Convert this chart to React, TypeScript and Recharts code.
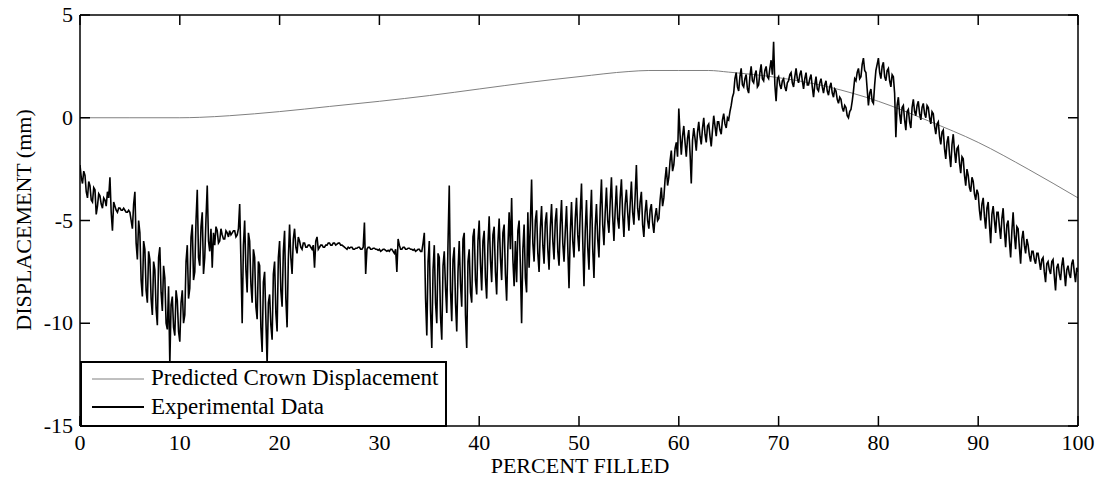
import React from 'react';
import { LineChart, Line, XAxis, YAxis, Legend } from 'recharts';

// measured trace is read every 0.125 percent, in 5% blocks
const STEP = 0.125;

// experimental displacement (mm), one array per 5% of fill
const exp0 = [-2.3, -2.9, -3.2, -2.6, -2.8, -3.6, -3.9, -3.1, -3.3, -4.0, -4.1, -3.4, -3.5, -4.7, -4.3, -3.7, -3.8, -4.2, -4.4, -3.9, -4.0, -4.3, -3.6, -3.9, -2.9, -4.6, -5.5, -4.1, -4.3, -4.5, -4.6, -4.4, -4.4, -4.5, -4.5, -4.4, -4.5, -4.6, -4.6, -4.5];
const exp5 = [-4.6, -5.0, -5.4, -4.2, -3.6, -6.1, -6.9, -5.0, -5.6, -7.9, -8.7, -6.0, -6.4, -8.4, -9.0, -6.5, -6.9, -8.8, -9.6, -7.0, -7.4, -9.3, -10.1, -6.8, -6.3, -8.5, -9.4, -7.2, -7.8, -10.0, -10.3, -8.2, -12.0, -9.1, -8.7, -10.2, -10.6, -8.4, -8.9, -10.4];
const exp10 = [-10.9, -9.0, -8.4, -10.0, -9.6, -7.0, -6.2, -8.8, -8.3, -5.8, -5.2, -7.9, -7.5, -5.0, -3.5, -6.8, -7.2, -5.3, -4.6, -7.6, -6.8, -4.9, -3.3, -6.0, -6.5, -5.4, -7.3, -5.6, -6.2, -5.3, -5.5, -6.1, -6.0, -5.4, -5.7, -5.9, -5.9, -5.5, -5.6, -5.8];
const exp15 = [-5.5, -5.7, -5.6, -5.5, -5.5, -5.8, -5.7, -5.4, -4.2, -7.0, -10.0, -6.2, -5.0, -7.4, -8.5, -5.6, -6.0, -8.1, -9.0, -6.4, -6.8, -9.2, -9.8, -7.0, -7.2, -10.2, -11.4, -8.0, -7.5, -9.8, -12.0, -9.0, -8.6, -10.1, -10.8, -7.6, -7.0, -9.5, -10.4, -6.8];
const exp20 = [-6.0, -8.4, -9.2, -6.5, -5.5, -8.8, -10.2, -6.9, -5.2, -6.8, -7.6, -5.9, -5.4, -6.3, -6.6, -5.8, -6.0, -6.3, -6.4, -6.1, -6.1, -6.3, -6.3, -6.2, -6.2, -6.3, -6.4, -6.2, -7.3, -6.0, -5.8, -6.4, -6.3, -6.2, -6.2, -6.3, -6.3, -6.2, -6.2, -6.1];
const exp25 = [-6.1, -6.2, -6.2, -6.1, -6.1, -6.2, -6.15, -6.1, -6.1, -6.2, -6.2, -6.25, -6.3, -6.35, -6.4, -6.3, -6.35, -6.3, -6.3, -6.4, -6.4, -6.35, -6.35, -6.3, -6.3, -6.4, -6.4, -6.3, -5.1, -7.6, -6.4, -6.3, -6.3, -6.4, -6.4, -6.35, -6.35, -6.4, -6.4, -6.45];
const exp30 = [-6.4, -6.5, -6.45, -6.4, -6.4, -6.45, -6.5, -6.45, -6.5, -6.4, -6.4, -6.5, -6.6, -6.4, -7.5, -5.9, -6.2, -6.4, -6.4, -6.3, -6.3, -6.4, -6.4, -6.35, -6.35, -6.4, -6.4, -6.45, -6.4, -6.5, -6.45, -6.4, -6.4, -6.5, -6.5, -6.1, -5.6, -8.8, -10.6, -7.0];
const exp35 = [-6.0, -9.4, -11.2, -7.4, -6.2, -9.0, -10.0, -6.6, -6.8, -9.7, -10.8, -7.2, -6.5, -8.3, -9.5, -6.1, -3.3, -8.4, -9.9, -6.9, -6.3, -9.0, -10.4, -7.5, -6.0, -8.1, -9.2, -5.9, -5.6, -9.6, -11.2, -7.0, -6.4, -8.5, -9.0, -5.8, -5.4, -7.9, -8.6, -6.0];
const exp40 = [-5.0, -7.1, -8.4, -6.0, -5.5, -7.8, -8.8, -6.2, -4.8, -6.9, -8.0, -5.7, -5.3, -7.5, -8.6, -6.1, -4.9, -6.8, -7.9, -5.6, -5.2, -7.6, -8.9, -6.3, -4.6, -6.4, -3.9, -6.9, -8.2, -6.0, -8.0, -5.5, -5.0, -7.2, -10.0, -6.4, -5.2, -7.8, -8.5, -4.6];
const exp45 = [-7.3, -5.2, -3.0, -6.1, -7.0, -5.0, -4.5, -6.6, -7.5, -5.4, -4.3, -6.2, -7.1, -5.1, -4.6, -6.4, -7.4, -5.3, -4.2, -6.0, -6.9, -5.0, -4.4, -6.5, -7.2, -5.2, -4.0, -6.1, -7.0, -5.5, -4.3, -6.3, -8.3, -5.6, -4.1, -6.0, -6.8, -4.9, -3.9, -5.7];
const exp50 = [-6.5, -4.6, -3.2, -6.0, -8.2, -5.5, -4.0, -6.3, -7.4, -5.0, -3.5, -6.4, -7.8, -5.3, -4.2, -5.9, -6.8, -4.4, -3.0, -5.2, -6.2, -4.6, -3.4, -5.0, -5.6, -4.1, -2.9, -4.8, -6.0, -4.5, -3.3, -4.9, -5.4, -3.9, -3.0, -4.7, -5.8, -4.2, -3.5, -4.6];
const exp55 = [-5.5, -4.2, -3.1, -4.6, -5.2, -3.8, -2.3, -4.4, -5.0, -4.1, -3.6, -5.2, -5.8, -4.6, -4.0, -5.0, -5.4, -4.5, -4.2, -5.1, -5.6, -4.8, -4.4, -5.0, -4.9, -4.0, -3.4, -4.3, -3.9, -3.0, -2.4, -3.3, -2.9, -2.1, -1.6, -2.6, -2.3, -1.5, -1.2, -1.9];
const exp60 = [0.45, -0.8, -1.8, -0.9, -0.4, -1.2, -1.9, -1.0, -0.6, -1.7, -3.2, -1.1, -0.5, -1.0, -1.6, -0.7, -0.2, -0.9, -1.3, -0.5, 0.0, -0.8, -1.2, -0.4, -0.3, -0.9, -1.4, -0.6, 0.1, -0.4, -0.9, -0.2, -0.2, -0.6, -0.8, -0.1, 0.2, -0.3, -0.5, 0.0];
const exp65 = [-0.1, 0.3, 0.6, 1.0, 1.2, 1.9, 2.2, 1.5, 1.3, 2.0, 2.4, 1.6, 1.5, 1.9, 2.1, 1.4, 1.2, 2.0, 2.5, 1.8, 1.7, 2.1, 2.3, 1.5, 1.6, 2.2, 2.6, 1.9, 1.8, 2.3, 2.5, 2.0, 1.9, 2.4, 2.8, 2.1, 3.7, 1.6, 0.8, 1.9];
const exp70 = [2.0, 1.6, 1.4, 1.8, 1.9, 1.5, 1.3, 1.7, 1.8, 2.1, 2.2, 1.7, 1.5, 2.0, 2.4, 1.9, 1.7, 2.1, 2.3, 1.8, 1.4, 1.9, 2.2, 1.6, 1.6, 1.9, 2.1, 1.5, 1.0, 1.6, 2.0, 1.4, 1.3, 1.7, 1.9, 1.5, 1.2, 1.6, 1.8, 1.3];
const exp75 = [1.1, 1.5, 1.7, 1.2, 1.0, 1.4, 1.3, 0.9, 0.7, 1.0, 0.9, 0.5, 0.3, 0.6, 0.5, 0.1, 0.0, 0.3, 0.4, 0.8, 1.3, 1.9, 1.8, 2.2, 2.4, 1.9, 2.0, 2.6, 2.9, 2.3, 2.2, 1.4, 0.6, 1.2, 1.4, 0.8, 0.7, 1.6, 2.3, 2.6];
const exp80 = [2.9, 2.2, 1.9, 2.5, 2.7, 2.0, 1.8, 2.3, 2.4, 1.8, 1.5, 2.1, 2.0, 1.2, -0.95, 0.6, 1.0, 0.2, -0.3, 0.5, 0.6, -0.1, -0.6, 0.3, 0.4, -0.2, -0.5, 0.5, 0.9, 0.3, 0.1, 0.6, 0.8, 0.2, -0.1, 0.5, 0.7, 0.2, 0.0, 0.6];
const exp85 = [0.5, 0.0, -0.3, 0.3, 0.2, -0.4, -0.8, -0.3, -0.2, -0.9, -1.3, -0.7, -0.6, -1.5, -2.0, -1.2, -0.9, -1.8, -2.4, -1.3, -0.8, -1.6, -2.2, -1.5, -1.4, -2.2, -2.7, -1.9, -2.0, -2.8, -3.3, -2.5, -2.8, -3.4, -3.6, -2.9, -3.1, -3.7, -4.0, -3.5];
const exp90 = [-3.7, -4.5, -5.0, -4.2, -3.9, -4.8, -5.4, -4.4, -4.1, -5.2, -6.1, -4.7, -4.3, -5.0, -5.6, -4.6, -4.6, -5.3, -5.9, -4.9, -4.4, -5.5, -6.3, -5.2, -5.0, -6.0, -6.8, -5.5, -4.6, -5.7, -6.4, -5.3, -5.4, -6.3, -7.1, -5.9, -5.5, -6.2, -6.6, -5.9];
const exp95 = [-6.2, -6.7, -7.0, -6.5, -6.5, -6.9, -7.1, -6.6, -6.6, -7.0, -7.4, -6.9, -6.8, -7.5, -8.0, -7.1, -7.0, -7.4, -7.6, -7.0, -6.9, -7.7, -8.4, -7.3, -7.1, -7.6, -7.9, -7.2, -6.8, -7.5, -8.2, -7.4, -7.2, -7.6, -7.8, -7.1, -6.9, -7.5, -8.0, -7.3, -7.5];

const expBlocks = [exp0, exp5, exp10, exp15, exp20, exp25, exp30, exp35, exp40, exp45, exp50, exp55, exp60, exp65, exp70, exp75, exp80, exp85, exp90, exp95];
const blockStarts = [0, 5, 10, 15, 20, 25, 30, 35, 40, 45, 50, 55, 60, 65, 70, 75, 80, 85, 90, 95];

// predicted crown displacement (mm)
const predX = [0, 5, 10, 12, 15, 20, 25, 30, 35, 40, 45, 50, 55, 57, 60, 63, 65, 70, 75, 80, 85, 90, 95, 100];
const predY = [0, 0, 0, 0.02, 0.1, 0.3, 0.55, 0.8, 1.08, 1.4, 1.72, 2.0, 2.25, 2.3, 2.3, 2.3, 2.22, 1.95, 1.5, 0.8, -0.15, -1.2, -2.5, -3.9];

const xTicks = [0, 10, 20, 30, 40, 50, 60, 70, 80, 90, 100];
const yTicks = [-15, -10, -5, 0, 5];

const expData = expBlocks.flatMap((block, b) =>
  block.map((v, i) => ({ x: blockStarts[b] + i * STEP, y: v }))
);
const predData = predX.map((x, i) => ({ x, y: predY[i] }));

const FONT = '"Liberation Serif", "Times New Roman", serif';
const TICK_LEN = 10;
const FS = 22;

// ticks point into the plot, like the original figure
const BottomTick = (props: any) => {
  const { x, y, payload } = props;
  return (
    <g>
      <path d={`M${x},${y}V${y - TICK_LEN}`} stroke="#000" strokeWidth={1.5} fill="none" />
      <text x={x} y={y + 24} textAnchor="middle" fontFamily={FONT} fontSize={FS} fill="#000" stroke="none">
        {payload.value}
      </text>
    </g>
  );
};

const TopTick = (props: any) => {
  const { x, y } = props;
  return <path d={`M${x},${y}V${y + TICK_LEN}`} stroke="#000" strokeWidth={1.5} fill="none" />;
};

const LeftTick = (props: any) => {
  const { x, y, payload } = props;
  return (
    <g>
      <path d={`M${x},${y}H${x + TICK_LEN}`} stroke="#000" strokeWidth={1.5} fill="none" />
      <text x={x - 7} y={y + 7} textAnchor="end" fontFamily={FONT} fontSize={FS} fill="#000" stroke="none">
        {payload.value}
      </text>
    </g>
  );
};

const RightTick = (props: any) => {
  const { x, y } = props;
  return <path d={`M${x},${y}H${x - TICK_LEN}`} stroke="#000" strokeWidth={1.5} fill="none" />;
};

const LegendBox = () => (
  <div
    style={{
      width: 367,
      height: 66,
      boxSizing: 'border-box',
      border: '2px solid #000',
      background: '#fff',
      fontFamily: FONT,
      fontSize: 23,
      color: '#000',
      position: 'relative',
    }}
  >
    <svg width={70} height={60} style={{ position: 'absolute', left: 0, top: 0 }}>
      <line x1={10} y1={16} x2={62} y2={16} stroke="#808080" strokeWidth={1} />
      <line x1={10} y1={44} x2={62} y2={44} stroke="#000" strokeWidth={2} />
    </svg>
    <div style={{ position: 'absolute', left: 69, top: 2, lineHeight: '26px', whiteSpace: 'nowrap' }}>
      Predicted Crown Displacement
    </div>
    <div style={{ position: 'absolute', left: 69, top: 31, lineHeight: '26px', whiteSpace: 'nowrap' }}>
      Experimental Data
    </div>
  </div>
);

export default function App() {
  return (
    <div style={{ position: 'absolute', left: 0, top: 0, width: 1103, height: 483, background: '#fff' }}>
      <LineChart width={1103} height={483} margin={{ top: 14, right: 24, bottom: 0, left: 0 }}>
        <XAxis
          dataKey="x"
          type="number"
          domain={[0, 100]}
          ticks={xTicks}
          interval={0}
          allowDataOverflow
          height={57}
          tickSize={0}
          tickMargin={0}
          tickLine={false}
          tick={<BottomTick />}
          axisLine={{ stroke: '#000', strokeWidth: 1.5 }}
        />
        <XAxis
          xAxisId="top"
          orientation="top"
          dataKey="x"
          type="number"
          domain={[0, 100]}
          ticks={xTicks}
          interval={0}
          allowDataOverflow
          height={1}
          tickSize={0}
          tickMargin={0}
          tickLine={false}
          tick={<TopTick />}
          axisLine={{ stroke: '#000', strokeWidth: 1.5 }}
        />
        <YAxis
          type="number"
          domain={[-15, 5]}
          ticks={yTicks}
          interval={0}
          allowDataOverflow
          width={80}
          tickSize={0}
          tickMargin={0}
          tickLine={false}
          tick={<LeftTick />}
          axisLine={{ stroke: '#000', strokeWidth: 1.5 }}
        />
        <YAxis
          yAxisId="right"
          orientation="right"
          type="number"
          domain={[-15, 5]}
          ticks={yTicks}
          interval={0}
          allowDataOverflow
          width={1}
          tickSize={0}
          tickMargin={0}
          tickLine={false}
          tick={<RightTick />}
          axisLine={{ stroke: '#000', strokeWidth: 1.5 }}
        />
        <Line
          data={predData}
          dataKey="y"
          name="Predicted Crown Displacement"
          type="monotone"
          stroke="#808080"
          strokeWidth={1}
          dot={false}
          isAnimationActive={false}
        />
        <Line
          data={expData}
          dataKey="y"
          name="Experimental Data"
          type="linear"
          stroke="#000"
          strokeWidth={1.6}
          dot={false}
          isAnimationActive={false}
        />
        <Legend
          layout="vertical"
          align="center"
          verticalAlign="middle"
          content={<LegendBox />}
          wrapperStyle={{ position: 'absolute', left: 80, top: 361, width: 367, height: 66 }}
        />
        <text x={580} y={473} textAnchor="middle" fontFamily={FONT} fontSize={FS} fill="#000">
          PERCENT FILLED
        </text>
        <text
          x={31}
          y={220}
          transform="rotate(-90 31 220)"
          textAnchor="middle"
          fontFamily={FONT}
          fontSize={FS}
          fill="#000"
        >
          DISPLACEMENT (mm)
        </text>
      </LineChart>
    </div>
  );
}
